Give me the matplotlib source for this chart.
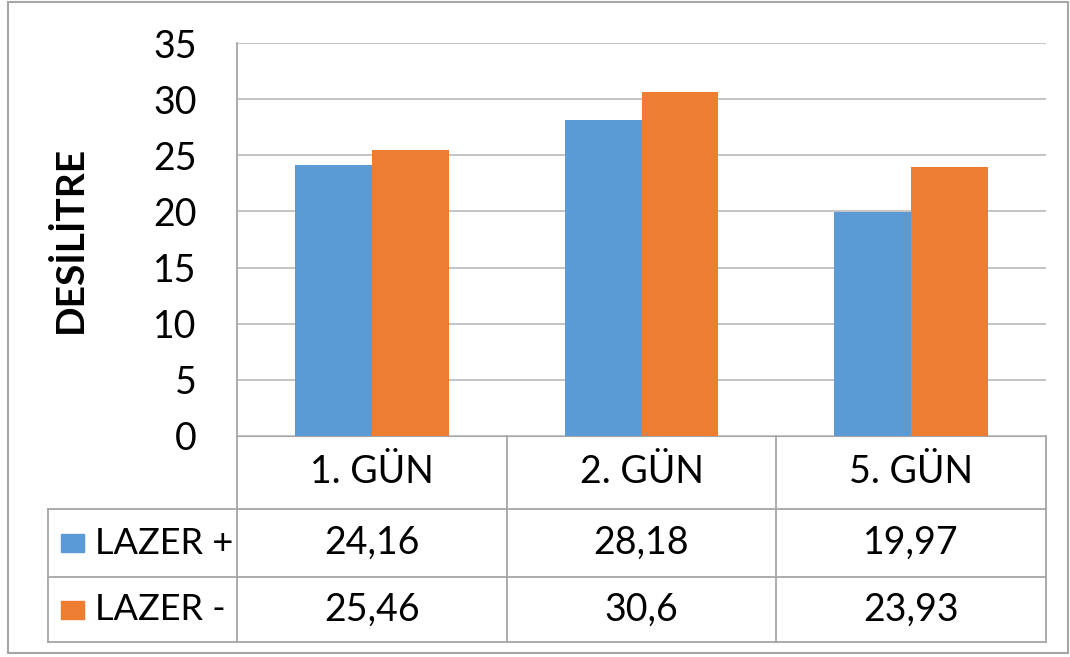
import matplotlib.pyplot as plt
from matplotlib.lines import Line2D
from matplotlib.patches import Rectangle

plt.rcParams['font.family'] = ['Lato', 'DejaVu Sans']

# data
gunler = ['1. GÜN', '2. GÜN', '5. GÜN']
seriler = ['LAZER +', 'LAZER -']
lazer_arti = [24.16, 28.18, 19.97]
lazer_eksi = [25.46, 30.6, 23.93]
etiketler = [['24,16', '28,18', '19,97'], ['25,46', '30,6', '23,93']]
renkler = ['#5B9BD5', '#ED7D31']

W, H = 1070, 657
fig = plt.figure(figsize=(W / 100, H / 100), dpi=100)

# plot area in pixel coordinates
x0, x1, y0, y1 = 237, 1046, 436, 43
ax = fig.add_axes([x0 / W, 1 - y0 / H, (x1 - x0) / W, (y0 - y1) / H])

x = range(len(gunler))
bw = 0.285
ax.bar([i - bw / 2 for i in x], lazer_arti, bw, color=renkler[0], zorder=3)
ax.bar([i + bw / 2 for i in x], lazer_eksi, bw, color=renkler[1], zorder=3)

ax.set_xlim(-0.5, 2.5)
ax.set_ylim(0, 35)
ax.set_yticks(range(0, 36, 5))
ax.yaxis.grid(True, color='#BFBFBF', linewidth=1.3)
ax.set_axisbelow(True)
for s in ['top', 'right', 'left']:
    ax.spines[s].set_visible(False)
ax.spines['bottom'].set_color('#A6A6A6')
ax.tick_params(axis='y', length=0, labelsize=27, pad=29)
ax.tick_params(axis='x', length=0, labelbottom=False)
ax.set_ylabel('DESİLİTRE', fontsize=28, fontweight='bold', labelpad=47)

# data table below the axes
ph = y0 - y1
pw = x1 - x0
def fy(py):
    return (y0 - py) / ph
def fx(px):
    return (px - x0) / pw

lc = '#A6A6A6'
row_lines = [509, 577, 642]
tr = ax.transAxes
def line(xs, ys):
    ax.add_line(Line2D(xs, ys, transform=tr, color=lc, linewidth=1.3, clip_on=False))

line([0, 0], [fy(642), 1])
for k in range(1, 4):
    line([k / 3, k / 3], [fy(642), 0])
line([fx(48), fx(48)], [fy(642), fy(509)])
for py in row_lines:
    line([fx(48), 1], [fy(py), fy(py)])

for i, g in enumerate(gunler):
    ax.text((i + 0.5) / 3, fy(472), g, transform=tr, ha='center', va='center', fontsize=27)
    for r in range(2):
        ax.text((i + 0.5) / 3, fy([543, 610][r]), etiketler[r][i], transform=tr,
                ha='center', va='center', fontsize=27)

for r, ad in enumerate(seriler):
    yc = fy([543, 610][r])
    ax.add_patch(Rectangle((fx(61), yc - 0.022), fx(84) - fx(61), 0.044, transform=tr,
                           color=renkler[r], clip_on=False))
    ax.text(fx(95), yc, ad, transform=tr, ha='left', va='center', fontsize=26)

# outer chart border
fig.add_artist(Rectangle((8 / W, 1 - 653 / H), (1068 - 8) / W, (653 - 2) / H,
                         transform=fig.transFigure, fill=False, edgecolor='#A6A6A6', linewidth=1.5))

fig.savefig('out.png', dpi=100)
